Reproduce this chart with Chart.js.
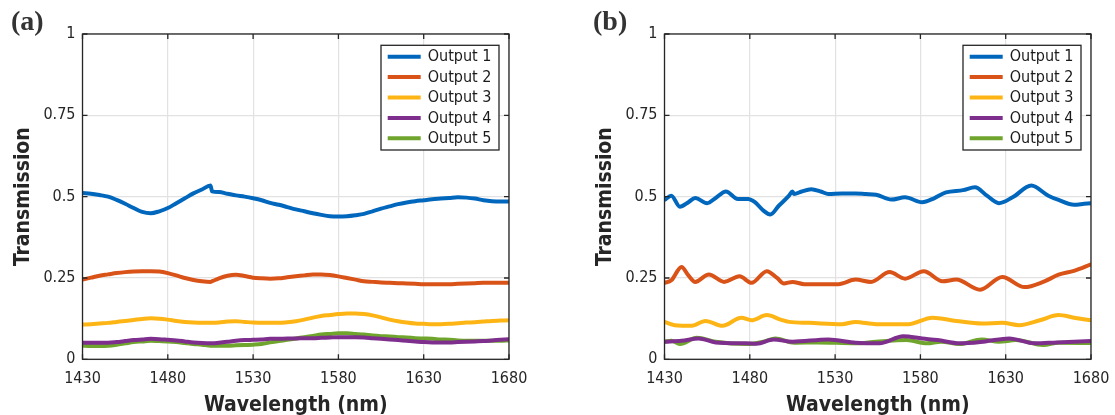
<!DOCTYPE html>
<html>
<head>
<meta charset="utf-8">
<script src="https://cdn.jsdelivr.net/npm/chart.js@4.4.1/dist/chart.umd.min.js"></script>
<style>
html,body{margin:0;padding:0;background:#fff;overflow:hidden;width:1115px;height:415px;}
.panel{position:absolute;top:0;width:582px;height:430px;}
</style>
</head>
<body>
<div class="panel" style="left:0"><canvas id="ca" width="582" height="430"></canvas></div>
<div class="panel" style="left:582px"><canvas id="cb" width="582" height="430"></canvas></div>
<script>
// ---------- labels ----------
const seriesNames = ['Output 1','Output 2','Output 3','Output 4','Output 5'];
const seriesColors = ['#0067BD','#D95319','#FDB515','#7E2F8E','#6FA52C'];
const panelLabels = ['(a)','(b)'];
const xTitle = 'Wavelength (nm)';
const yTitle = 'Transmission';
const xTickMin = 1430, xTickMax = 1680, xTickStep = 50;
const yTickMin = 0, yTickMax = 1, yTickStep = 0.25;

// ---------- panel (a) ----------
const aWave = [1430,1435,1440,1445,1450,1455,1460,1465,1470,1475,1480,1485,1490,1495,1500,1505,1506,1510,1515,1520,1525,1530,1535,1540,1545,1550,1555,1560,1565,1570,1575,1580,1585,1590,1595,1600,1605,1610,1615,1620,1625,1630,1635,1640,1645,1650,1655,1660,1665,1670,1675,1680];
const aOut1 = [.511,.509,.505,.500,.490,.478,.465,.453,.449,.455,.465,.480,.495,.510,.522,.534,.516,.514,.509,.504,.500,.495,.489,.481,.475,.468,.461,.455,.449,.444,.440,.439,.440,.443,.447,.455,.463,.470,.477,.482,.486,.489,.492,.494,.496,.498,.497,.494,.489,.486,.485,.485];
const aOut2 = [.245,.251,.257,.261,.265,.268,.270,.271,.271,.270,.265,.258,.250,.244,.240,.238,.240,.249,.257,.260,.256,.251,.249,.248,.249,.252,.255,.258,.261,.261,.259,.255,.250,.245,.240,.238,.236,.235,.234,.233,.232,.231,.231,.231,.231,.232,.233,.234,.235,.235,.235,.235];
const aOut3 = [.107,.108,.110,.112,.115,.118,.121,.124,.126,.125,.122,.118,.115,.113,.112,.112,.112,.113,.116,.117,.115,.113,.112,.112,.112,.114,.117,.122,.128,.133,.136,.139,.141,.141,.139,.135,.129,.122,.117,.113,.110,.109,.108,.108,.109,.111,.113,.114,.116,.118,.119,.120];
const aOut4 = [.051,.051,.051,.051,.053,.056,.059,.061,.063,.062,.060,.058,.055,.052,.050,.049,.049,.051,.054,.057,.059,.060,.061,.063,.063,.064,.064,.065,.065,.066,.067,.068,.068,.068,.067,.065,.063,.061,.059,.057,.055,.053,.052,.052,.052,.053,.054,.055,.056,.058,.060,.062];
const aOut5 = [.042,.041,.041,.042,.045,.049,.053,.055,.057,.056,.055,.053,.050,.047,.045,.042,.042,.042,.042,.043,.044,.045,.047,.052,.056,.060,.064,.068,.072,.076,.078,.080,.080,.078,.076,.073,.071,.070,.068,.067,.065,.064,.063,.061,.060,.058,.057,.057,.057,.057,.057,.058];

// ---------- panel (b) ----------
const bWave1 = [1430,1434,1439,1444,1448,1455,1460,1466,1473,1479,1483,1488,1492,1497,1503,1505,1506,1510,1516,1522,1526,1534,1542,1548,1554,1563,1571,1581,1588,1595,1605,1612,1619,1626,1634,1645,1655,1661,1670,1676,1680];
const bOut1  = [.490,.503,.469,.483,.496,.480,.496,.516,.493,.493,.483,.457,.445,.472,.503,.516,.508,.515,.523,.515,.508,.510,.510,.508,.506,.491,.498,.483,.495,.513,.520,.529,.503,.480,.498,.534,.503,.490,.475,.478,.480];
const bWave2 = [1430,1434,1440,1444,1448,1456,1465,1474,1481,1490,1496,1500,1505,1512,1522,1532,1542,1551,1562,1571,1582,1593,1601,1615,1628,1641,1652,1661,1670,1680];
const bOut2  = [.235,.243,.284,.258,.238,.261,.238,.255,.235,.271,.250,.233,.238,.231,.231,.231,.245,.238,.268,.248,.271,.240,.245,.214,.253,.222,.238,.260,.272,.292];
const bWave3 = [1430,1436,1446,1454,1464,1475,1481,1490,1498,1503,1515,1534,1542,1554,1573,1587,1601,1616,1628,1638,1650,1661,1670,1680];
const bOut3  = [.115,.105,.103,.118,.103,.128,.120,.136,.122,.115,.112,.108,.115,.108,.108,.128,.118,.110,.112,.105,.120,.136,.128,.120];
const bWave4 = [1430,1440,1450,1460,1478,1484,1494,1505,1526,1542,1556,1570,1581,1590,1603,1618,1632,1647,1660,1680];
const bOut4  = [.054,.057,.064,.052,.049,.048,.061,.054,.061,.051,.049,.071,.064,.059,.049,.055,.064,.049,.052,.056];
const bWave5 = [1430,1434,1439,1449,1460,1478,1488,1495,1506,1520,1542,1554,1572,1584,1592,1603,1616,1626,1636,1652,1661,1680];
const bOut5  = [.054,.057,.047,.066,.054,.047,.054,.064,.051,.052,.049,.054,.059,.049,.054,.047,.061,.054,.059,.044,.051,.050];

const TEXT = '#262626';
const FONT = "'DejaVu Sans Condensed','DejaVu Sans', sans-serif";

function pts(xs, ys){ return xs.map((x,i)=>({x:x, y:ys[i]})); }

const framePlugin = {
  id:'frame',
  afterDatasetsDraw(chart){
    const {ctx, chartArea:a, scales} = chart;
    ctx.save();
    ctx.strokeStyle = TEXT; ctx.lineWidth = 1.3;
    ctx.strokeRect(a.left, a.top, a.right-a.left, a.bottom-a.top);
    const L = 5;
    ctx.beginPath();
    scales.x.ticks.forEach(t=>{
      const px = scales.x.getPixelForValue(t.value);
      ctx.moveTo(px, a.bottom); ctx.lineTo(px, a.bottom-L);
      ctx.moveTo(px, a.top); ctx.lineTo(px, a.top+L);
    });
    scales.y.ticks.forEach(t=>{
      const py = scales.y.getPixelForValue(t.value);
      ctx.moveTo(a.left, py); ctx.lineTo(a.left+L, py);
      ctx.moveTo(a.right, py); ctx.lineTo(a.right-L, py);
    });
    ctx.stroke();
    ctx.restore();
  },
  afterDraw(chart, args, opts){
    const {ctx, chartArea:a} = chart;
    ctx.save();
    // panel label
    ctx.fillStyle = '#333';
    ctx.font = "bold 28px 'Liberation Serif', serif";
    ctx.textBaseline = 'alphabetic';
    ctx.textAlign = 'left';
    ctx.fillText(opts.label, opts.labelX, 30);
    // legend box
    const w = 118, h = 104.7;
    const bx = a.right - 10 - w, by = a.top + 11.3;
    ctx.fillStyle = '#fff';
    ctx.fillRect(bx, by, w, h);
    ctx.strokeStyle = TEXT; ctx.lineWidth = 1.3;
    ctx.strokeRect(bx, by, w, h);
    ctx.font = "16px " + FONT;
    ctx.textBaseline = 'middle';
    chart.data.datasets.forEach((ds,i)=>{
      const ry = by + 11.4 + i*20.4;
      ctx.strokeStyle = ds.borderColor; ctx.lineWidth = 4;
      ctx.beginPath(); ctx.moveTo(bx+6.7, ry); ctx.lineTo(bx+39.7, ry); ctx.stroke();
      ctx.fillStyle = '#1a1a1a';
      ctx.fillText(ds.label, bx+46.7, ry+0.5);
    });
    ctx.restore();
  }
};

function makeChart(id, label, labelX, series){
  const datasets = series.map((s,i)=>({
    label: seriesNames[i],
    data: pts(s[0], s[1]),
    borderColor: seriesColors[i],
    backgroundColor: seriesColors[i],
    borderWidth: 4,
    pointRadius: 0,
    fill: false,
    cubicInterpolationMode: 'monotone',
    borderCapStyle: 'round',
    borderJoinStyle: 'round'
  }));
  return new Chart(document.getElementById(id), {
    type: 'line',
    data: { datasets },
    plugins: [framePlugin],
    options: {
      responsive: false,
      animation: false,
      events: [],
      layout: { padding: { top: 34, right: 73, left: 0, bottom: 0 } },
      plugins: {
        legend: { display: false },
        tooltip: { enabled: false },
        frame: { label: label, labelX: labelX }
      },
      scales: {
        x: {
          type: 'linear', min: xTickMin, max: xTickMax,
          afterFit(s){ s.height = 70.7; },
          ticks: { stepSize: xTickStep, color: TEXT, font: { family: FONT, size: 16 }, padding: 10, maxRotation: 0,
                   callback: v => String(v) },
          grid: { color: '#e2e2e2', lineWidth: 1.2, drawTicks: false },
          border: { display: false },
          title: { display: true, text: xTitle, color: TEXT,
                   font: { family: FONT, size: 21, weight: 'bold', lineHeight: 1 },
                   padding: { top: 0, bottom: 13.5 } }
        },
        y: {
          type: 'linear', min: yTickMin, max: yTickMax,
          afterFit(s){ s.width = 82.5; },
          ticks: { stepSize: yTickStep, color: TEXT, font: { family: FONT, size: 16 }, padding: 7,
                   callback: v => String(v) },
          grid: { color: '#e2e2e2', lineWidth: 1.2, drawTicks: false },
          border: { display: false },
          title: { display: true, text: yTitle, color: TEXT,
                   font: { family: FONT, size: 21, weight: 'bold', lineHeight: 1 },
                   padding: { top: 13.5, bottom: 0 } }
        }
      }
    }
  });
}

makeChart('ca', panelLabels[0], 11, [[aWave,aOut1],[aWave,aOut2],[aWave,aOut3],[aWave,aOut4],[aWave,aOut5]]);
makeChart('cb', panelLabels[1], 11, [[bWave1,bOut1],[bWave2,bOut2],[bWave3,bOut3],[bWave4,bOut4],[bWave5,bOut5]]);
</script>
</body>
</html>
